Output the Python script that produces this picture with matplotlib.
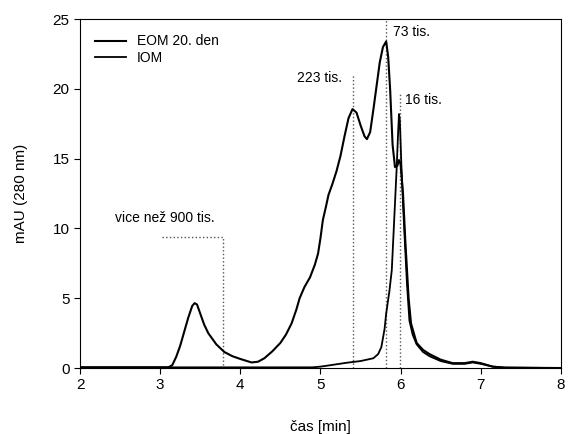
import numpy as np
import matplotlib.pyplot as plt

plt.rcParams['font.family'] = ['Liberation Sans', 'DejaVu Sans']

# EOM 20. den
eom_x = [2.0, 3.1, 3.15, 3.2, 3.25, 3.3, 3.35, 3.4, 3.43, 3.46, 3.5, 3.55, 3.6, 3.7, 3.8,
         3.9, 4.0, 4.14, 4.22, 4.3, 4.4, 4.5, 4.57, 4.64, 4.7, 4.74, 4.8, 4.87, 4.93, 4.97,
         5.0, 5.03, 5.07, 5.1, 5.15, 5.2, 5.25, 5.3, 5.35, 5.4, 5.45, 5.5, 5.55, 5.58, 5.62,
         5.66, 5.7, 5.74, 5.78, 5.82, 5.845, 5.87, 5.9, 5.93, 5.96, 5.98, 6.0, 6.03, 6.06,
         6.1, 6.13, 6.2, 6.28, 6.36, 6.5, 6.65, 6.8, 6.9, 7.0, 7.15, 7.3, 8.0]
eom_y = [0.05, 0.05, 0.2, 0.8, 1.6, 2.6, 3.6, 4.45, 4.65, 4.55, 3.9, 3.1, 2.5, 1.7, 1.15,
         0.85, 0.65, 0.4, 0.45, 0.7, 1.2, 1.8, 2.4, 3.2, 4.2, 5.0, 5.8, 6.5, 7.4, 8.2,
         9.3, 10.6, 11.6, 12.4, 13.2, 14.1, 15.2, 16.6, 17.9, 18.55, 18.3, 17.4, 16.6, 16.4, 16.9,
         18.5, 20.2, 21.9, 23.0, 23.4, 22.3, 19.9, 16.0, 14.4, 14.5, 14.9, 14.6, 12.5, 9.0,
         5.0, 3.2, 1.8, 1.3, 1.0, 0.6, 0.35, 0.35, 0.45, 0.35, 0.1, 0.03, 0.0]

# IOM
iom_x = [2.0, 3.0, 4.0, 4.9, 5.0, 5.12, 5.33, 5.5, 5.66, 5.72, 5.76, 5.8, 5.82, 5.86, 5.89,
         5.93, 5.95, 5.97, 5.98, 5.99, 6.01, 6.03, 6.05, 6.08, 6.11, 6.15, 6.2, 6.28, 6.36,
         6.5, 6.65, 6.8, 6.9, 7.0, 7.15, 7.3, 8.0]
iom_y = [0.05, 0.05, 0.05, 0.05, 0.1, 0.2, 0.38, 0.5, 0.7, 1.0, 1.5, 2.8, 3.9, 5.5, 7.0,
         11.8, 14.2, 17.0, 18.2, 17.8, 14.5, 11.8, 9.4, 6.0, 3.4, 2.4, 1.7, 1.15, 0.85,
         0.5, 0.3, 0.3, 0.4, 0.3, 0.1, 0.03, 0.0]

# molecular weight marks
mw_x = [5.41, 5.82, 5.99]
mw_top = [21.0, 25.0, 19.8]
mw_labels = ['223 tis.', '73 tis.', '16 tis.']
mw_label_pos = [(4.71, 20.8), (5.90, 24.1), (6.05, 19.2)]

fig = plt.figure(figsize=(5.7, 4.34), dpi=100)
ax = fig.add_axes([0.1404, 0.152, 0.8436, 0.804])

for x, top in zip(mw_x, mw_top):
    ax.plot([x, x], [0, top], ls=':', color='#555555', lw=1.0)
# > 900 tis.
ax.plot([3.02, 3.78, 3.78], [9.4, 9.4, 0], ls=':', color='#555555', lw=1.0)

ax.plot(eom_x, eom_y, color='black', lw=1.5, label='EOM 20. den')
ax.plot(iom_x, iom_y, color='black', lw=1.3, label='IOM')

for lab, (x, y) in zip(mw_labels, mw_label_pos):
    ax.text(x, y, lab, fontsize=10, ha='left', va='center')
ax.text(2.44, 10.75, 'vice než 900 tis.', fontsize=10, ha='left', va='center')

ax.set_xlim(2, 8)
ax.set_ylim(0, 25)
ax.set_xticks(np.arange(2, 9, 1))
ax.set_yticks(np.arange(0, 26, 5))
ax.tick_params(direction='out', length=4, labelsize=11)
ax.set_xlabel('čas [min]', fontsize=11, labelpad=20)
ax.set_ylabel('mAU (280 nm)', fontsize=11, labelpad=18)

ax.legend(loc='upper left', bbox_to_anchor=(0.0, 1.0), frameon=False, fontsize=10,
          handlelength=2.2, handletextpad=0.8, labelspacing=0.2, borderaxespad=0.7)

fig.savefig('out.png', dpi=100)
